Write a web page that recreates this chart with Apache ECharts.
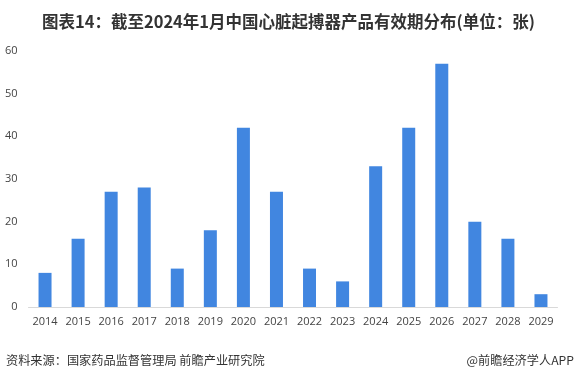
<!DOCTYPE html>
<html><head><meta charset="utf-8">
<script src="https://cdn.jsdelivr.net/npm/echarts@6/dist/echarts.min.js"></script>
<style>html,body{margin:0;padding:0;background:#fff}#c{width:577px;height:382px}</style>
</head><body><div id="c"></div>
<script>
const categories = ['2014','2015','2016','2017','2018','2019','2020','2021','2022','2023','2024','2025','2026','2027','2028','2029'];
const values = [8,16,27,28,9,18,42,27,9,6,33,42,57,20,16,3];
const yTicks = [0,10,20,30,40,50,60];
const titleText = '图表14：截至2024年1月中国心脏起搏器产品有效期分布(单位：张)';
const sourceText = '资料来源：国家药品监督管理局 前瞻产业研究院';
const brandText = '@前瞻经济学人APP';

const chart = echarts.init(document.getElementById('c'));
chart.setOption({
  animation:false,
  title:{text:titleText,left:'center',top:8,textStyle:{fontSize:16.5,fontWeight:'bold',color:'#333',fontFamily:'"Noto Sans CJK SC", sans-serif'}},
  graphic:[
    {type:'text',left:6,top:354,style:{text:sourceText,fontSize:12.2,fill:'#333',fontFamily:'"Noto Sans CJK SC", sans-serif'}},
    {type:'text',right:3,top:354,style:{text:brandText,fontSize:12.2,fill:'#333',fontFamily:'"Noto Sans CJK SC", sans-serif'}}
  ],
  grid:{left:28.5,right:19.5,top:51,bottom:75},
  xAxis:{type:'category',data:categories,axisTick:{show:false},
    axisLine:{lineStyle:{color:'#d9d9d9'}},
    axisLabel:{color:'#444',fontSize:11,margin:9,fontFamily:'"Open Sans", sans-serif'}},
  yAxis:{type:'value',min:yTicks[0],max:yTicks[yTicks.length-1],interval:10,splitLine:{show:false},
    axisLabel:{color:'#444',fontSize:11,margin:11,fontFamily:'"Open Sans", sans-serif'}},
  series:[{type:'bar',data:values,barWidth:13,itemStyle:{color:'#4186e0'}}]
});
</script></body></html>
